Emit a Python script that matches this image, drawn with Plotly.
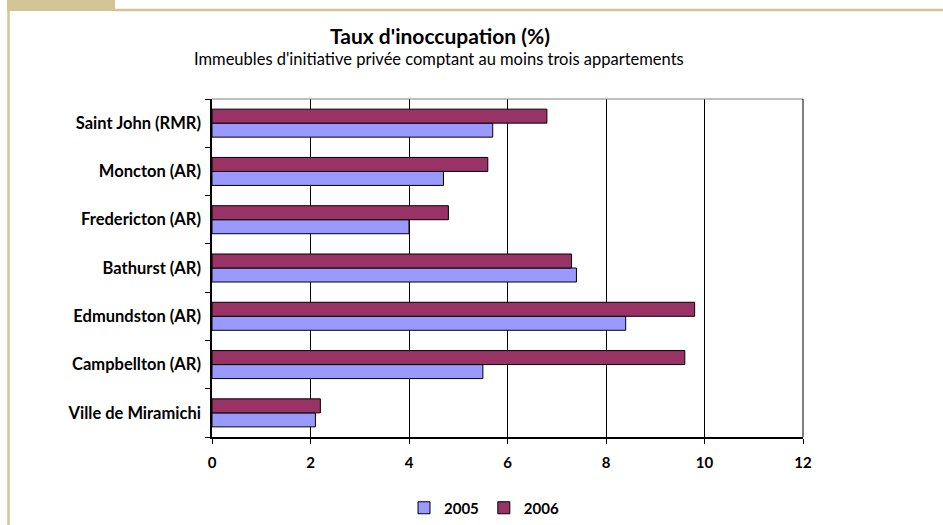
import plotly.graph_objects as go

categories = ["Ville de Miramichi", "Campbellton (AR)", "Edmundston (AR)", "Bathurst (AR)",
              "Fredericton (AR)", "Moncton (AR)", "Saint John (RMR)"]
values_2005 = [2.1, 5.5, 8.4, 7.4, 4.0, 4.7, 5.7]
values_2006 = [2.2, 9.6, 9.8, 7.3, 4.8, 5.6, 6.8]
x_ticks = [0, 2, 4, 6, 8, 10, 12]

W, H = 943, 525
L, R, T, B = 212, 803, 99, 437
FONT = "Lato"

def px(x):
    return (x - L) / (R - L)

def py(y):
    return (B - y) / (B - T)

fig = go.Figure()
fig.add_trace(go.Bar(y=categories, x=values_2005, name="2005", orientation="h",
                     marker=dict(color="#9999FF", line=dict(color="#000000", width=1))))
fig.add_trace(go.Bar(y=categories, x=values_2006, name="2006", orientation="h",
                     marker=dict(color="#993366", line=dict(color="#000000", width=1))))

tan = "#D3C495"
shapes = [
    dict(type="rect", xref="paper", yref="paper", x0=px(7), x1=px(115), y0=py(0), y1=py(11),
         fillcolor=tan, line=dict(width=0), layer="below"),
    dict(type="line", xref="paper", yref="paper", x0=px(115), x1=px(943), y0=py(10), y1=py(10),
         line=dict(color=tan, width=2.5), layer="below"),
    dict(type="line", xref="paper", yref="paper", x0=px(8.5), x1=px(8.5), y0=py(10), y1=py(525),
         line=dict(color=tan, width=2.5), layer="below"),
    # plot border top and right
    dict(type="line", xref="paper", yref="paper", x0=0, x1=1, y0=1, y1=1,
         line=dict(color="#808080", width=1)),
    dict(type="line", xref="paper", yref="paper", x0=1, x1=1, y0=0, y1=1,
         line=dict(color="#000000", width=1)),
]

fig.update_layout(
    width=W, height=H,
    margin=dict(l=L, r=W - R, t=T, b=H - B, autoexpand=False),
    paper_bgcolor="white", plot_bgcolor="white",
    barmode="group", bargap=0.42, bargroupgap=0,
    font=dict(family=FONT, color="#000000"),
    title=dict(text="<b>Taux d'inoccupation (%)</b>", x=440 / W, xanchor="center",
               y=1 - 37 / H, yanchor="middle", font=dict(size=21, family=FONT)),
    annotations=[dict(text="Immeubles d'initiative privée comptant au moins trois appartements",
                      xref="paper", yref="paper", x=px(439), y=py(59), xanchor="center",
                      yanchor="middle", showarrow=False, font=dict(size=16.5, family=FONT))],
    shapes=shapes,
    showlegend=True,
    legend=dict(orientation="h", x=px(484), y=py(508), xanchor="center", yanchor="middle",
                font=dict(size=15, family=FONT, weight="bold"), traceorder="normal",
                itemwidth=30, tracegroupgap=0),
    xaxis=dict(range=[0, 12], tickvals=x_ticks, ticktext=[str(t) for t in x_ticks],
               showgrid=True, gridcolor="#000000", gridwidth=1, zeroline=False,
               showline=True, linecolor="#000000", linewidth=1.5,
               ticks="outside", ticklen=5, tickcolor="#000000",
               tickfont=dict(size=15, family=FONT, weight="bold"), ticklabelstandoff=6,
               fixedrange=True, automargin=False),
    yaxis=dict(showgrid=False, zeroline=False, showline=True, linecolor="#000000", linewidth=1.5,
               ticks="outside", ticklen=5, tickcolor="#000000", tickson="boundaries",
               tickfont=dict(size=16.5, family=FONT, weight="bold"), ticklabelstandoff=6,
               fixedrange=True, automargin=False),
)

fig.write_html("out.html", config={"displayModeBar": False},
               post_script="document.body.style.margin='0';")
